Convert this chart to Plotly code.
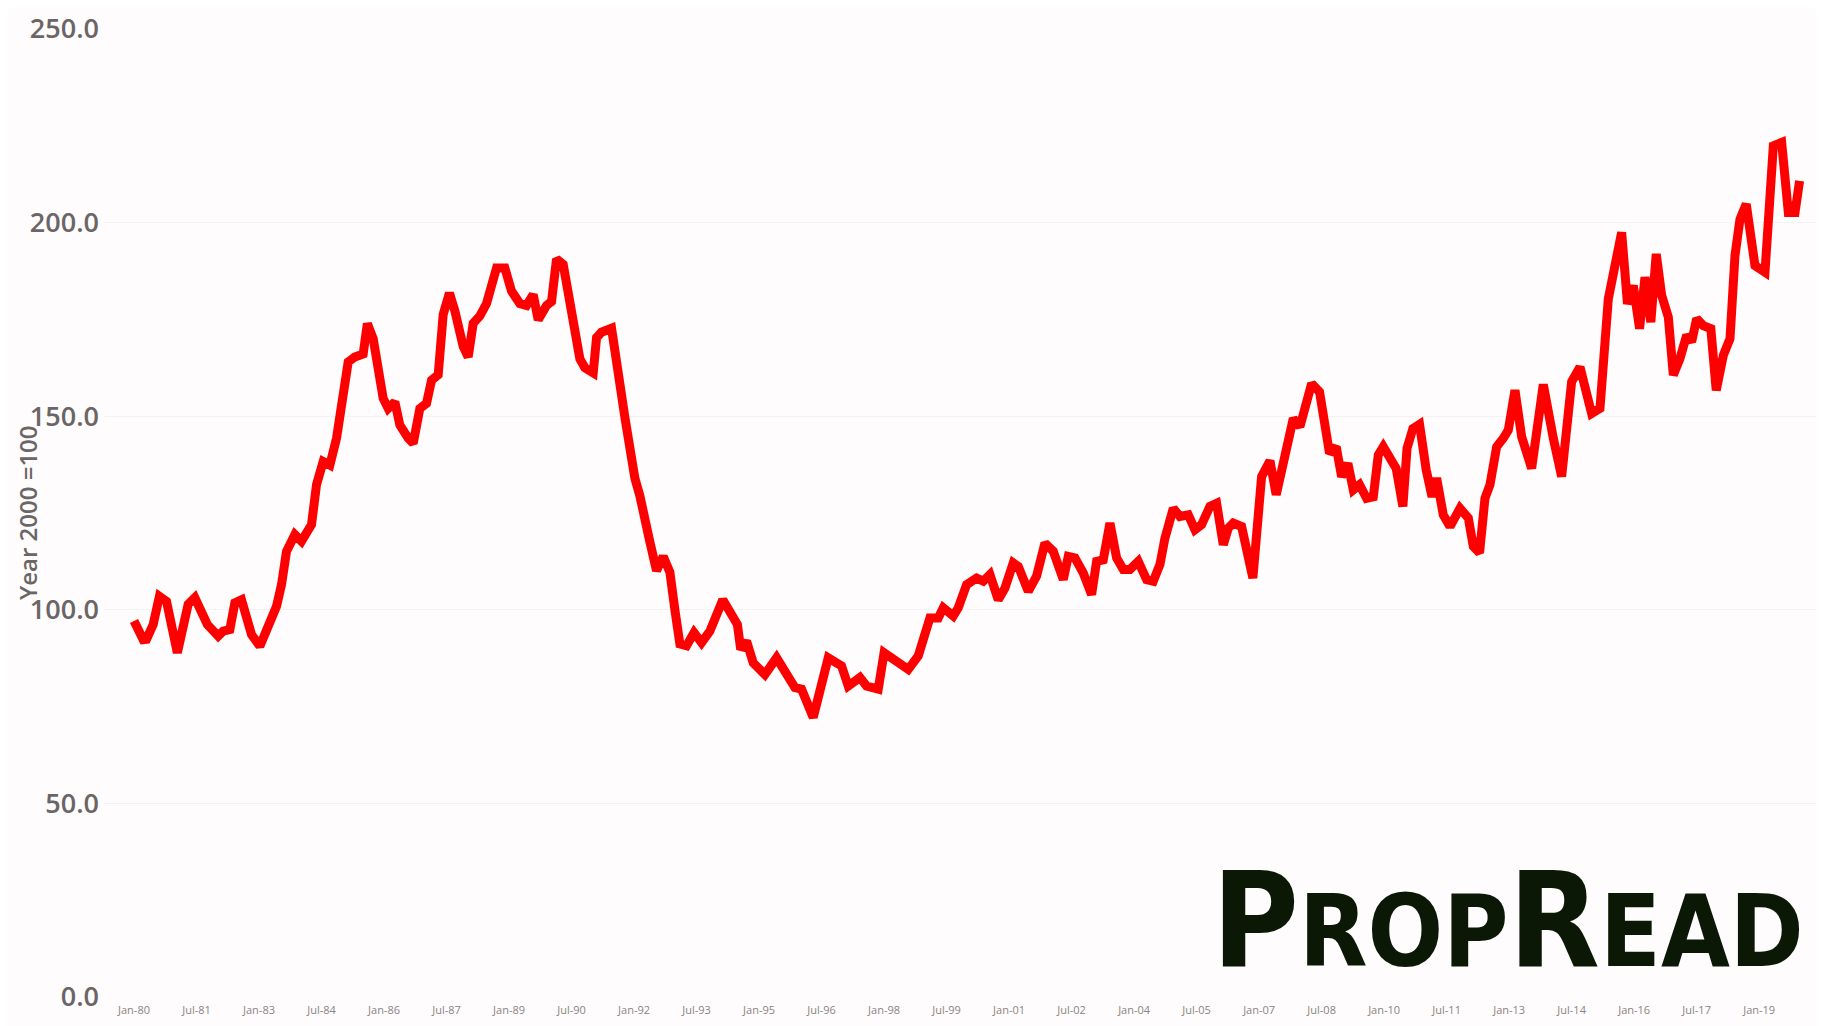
import plotly.graph_objects as go

years = [
    1980.00, 1980.22, 1980.30, 1980.46, 1980.61, 1980.78, 1981.04, 1981.30, 1981.46, 1981.76,
    1982.02, 1982.14, 1982.30, 1982.42, 1982.58, 1982.82, 1983.02, 1983.22, 1983.42, 1983.54,
    1983.66, 1983.86, 1984.02, 1984.26, 1984.38, 1984.54, 1984.70, 1984.86, 1985.02, 1985.14,
    1985.30, 1985.50, 1985.60, 1985.74, 1985.98, 1986.10, 1986.26, 1986.38, 1986.58, 1986.70,
    1986.86, 1987.02, 1987.14, 1987.30, 1987.42, 1987.57, 1987.70, 1987.90, 1988.02, 1988.14,
    1988.30, 1988.46, 1988.70, 1988.90, 1989.06, 1989.26, 1989.42, 1989.58, 1989.70, 1989.90,
    1990.02, 1990.14, 1990.30, 1990.50, 1990.70, 1990.82, 1991.02, 1991.10, 1991.22, 1991.46,
    1991.62, 1991.78, 1992.02, 1992.14, 1992.38, 1992.54, 1992.70, 1992.86, 1992.98, 1993.10,
    1993.26, 1993.44, 1993.62, 1993.82, 1994.13, 1994.30, 1994.48, 1994.56, 1994.70, 1994.86,
    1995.14, 1995.42, 1995.66, 1995.86, 1996.02, 1996.30, 1996.66, 1996.98, 1997.14, 1997.42,
    1997.58, 1997.86, 1998.00, 1998.22, 1998.58, 1998.82, 1999.10, 1999.30, 1999.42, 1999.66,
    1999.78, 1999.98, 2000.22, 2000.38, 2000.54, 2000.74, 2000.90, 2001.10, 2001.22, 2001.46,
    2001.66, 2001.86, 2002.06, 2002.30, 2002.42, 2002.58, 2002.78, 2002.98, 2003.10, 2003.26,
    2003.42, 2003.58, 2003.74, 2003.90, 2004.10, 2004.30, 2004.46, 2004.62, 2004.74, 2004.94,
    2005.10, 2005.30, 2005.46, 2005.62, 2005.82, 2005.98, 2006.14, 2006.26, 2006.38, 2006.58,
    2006.85, 2007.06, 2007.26, 2007.41, 2007.62, 2007.82, 2007.98, 2008.26, 2008.45, 2008.69,
    2008.85, 2008.98, 2009.13, 2009.26, 2009.41, 2009.58, 2009.74, 2009.86, 2009.98, 2010.29,
    2010.45, 2010.55, 2010.69, 2010.85, 2011.01, 2011.15, 2011.26, 2011.42, 2011.58, 2011.82,
    2012.02, 2012.14, 2012.29, 2012.42, 2012.54, 2012.70, 2012.86, 2012.98, 2013.14, 2013.30,
    2013.54, 2013.70, 2013.82, 2014.06, 2014.26, 2014.50, 2014.70, 2014.98, 2015.18, 2015.38,
    2015.70, 2015.84, 2015.98, 2016.13, 2016.26, 2016.40, 2016.53, 2016.66, 2016.82, 2016.94,
    2017.10, 2017.26, 2017.38, 2017.50, 2017.66, 2017.84, 2017.97, 2018.14, 2018.30, 2018.42,
    2018.54, 2018.69, 2018.90, 2019.14, 2019.26, 2019.34, 2019.54, 2019.70, 2019.86, 2019.97,
]

index_values = [
    97.1, 92.3, 92.4, 96.2, 103.5, 102.2, 88.9, 101.4, 103.1, 96.2,
    93.2, 94.5, 94.9, 101.8, 102.6, 93.6, 90.6, 96.2, 100.9, 106.5,
    115.1, 119.4, 117.7, 122.0, 132.3, 138.3, 137.4, 144.3, 157.1, 164.0,
    165.3, 166.1, 173.9, 170.0, 154.6, 152.0, 153.7, 147.7, 144.3, 143.0,
    152.0, 153.3, 159.3, 160.7, 176.3, 181.8, 177.2, 168.0, 165.3, 174.0,
    175.9, 179.1, 188.3, 188.3, 182.3, 179.1, 178.6, 181.4, 174.9, 178.6,
    179.6, 190.6, 189.2, 177.2, 164.8, 162.5, 161.2, 170.3, 171.7, 172.7,
    158.9, 149.7, 134.0, 129.4, 117.5, 110.1, 113.8, 109.7, 100.0, 91.2,
    90.7, 94.1, 91.5, 94.5, 102.6, 99.6, 96.2, 89.8, 91.9, 86.3,
    83.3, 87.6, 83.3, 79.9, 79.5, 72.2, 87.6, 85.5, 80.3, 82.5,
    80.3, 79.5, 88.9, 87.2, 84.6, 88.1, 97.9, 97.9, 100.5, 98.4,
    100.5, 106.5, 108.2, 107.4, 109.1, 102.6, 105.6, 112.1, 111.2, 104.8,
    108.7, 117.2, 115.1, 107.8, 113.8, 113.4, 109.5, 103.9, 112.5, 112.9,
    122.4, 113.4, 110.4, 110.4, 112.5, 107.8, 107.4, 111.7, 118.5, 126.2,
    124.1, 124.5, 120.7, 122.0, 126.7, 127.5, 116.8, 121.1, 122.4, 121.5,
    108.2, 134.4, 138.5, 129.7, 139.1, 149.4, 147.3, 158.4, 156.3, 140.4,
    142.1, 134.4, 137.8, 131.0, 132.3, 128.8, 129.2, 140.0, 142.1, 136.5,
    126.7, 141.7, 146.8, 147.9, 136.1, 129.2, 134.0, 124.5, 121.5, 126.2,
    123.7, 116.4, 114.7, 128.8, 132.3, 142.1, 144.3, 146.4, 156.7, 144.7,
    136.5, 150.3, 158.2, 144.3, 134.4, 158.9, 162.7, 150.7, 152.0, 180.3,
    197.5, 179.0, 183.7, 172.6, 185.9, 174.3, 191.9, 181.2, 175.6, 160.6,
    164.9, 170.9, 169.2, 175.2, 173.4, 172.6, 156.7, 165.7, 170.0, 191.5,
    200.9, 204.8, 188.9, 187.2, 206.9, 219.8, 220.7, 202.6, 202.6, 210.8,
]

x_tick_positions = [1980.0, 1981.5, 1983.0, 1984.5, 1986.0, 1987.5, 1989.0, 1990.5, 1992.0,
                    1993.5, 1995.0, 1996.5, 1998.0, 1999.5, 2001.0, 2002.5, 2004.0, 2005.5,
                    2007.0, 2008.5, 2010.0, 2011.5, 2013.0, 2014.5, 2016.0, 2017.5, 2019.0]
x_tick_labels = ["Jan-80", "Jul-81", "Jan-83", "Jul-84", "Jan-86", "Jul-87", "Jan-89", "Jul-90",
                 "Jan-92", "Jul-93", "Jan-95", "Jul-96", "Jan-98", "Jul-99", "Jan-01", "Jul-02",
                 "Jan-04", "Jul-05", "Jan-07", "Jul-08", "Jan-10", "Jul-11", "Jan-13", "Jul-14",
                 "Jan-16", "Jul-17", "Jan-19"]
y_ticks = [0, 50, 100, 150, 200, 250]
y_title = "Year 2000 =100"
logo_text = "P<span style='font-size:99px'>ROP</span>R<span style='font-size:99px'>EAD</span>"

grey = "#6b6565"
bg = "#fefcfc"

fig = go.Figure()
fig.add_trace(go.Scatter(
    x=years, y=index_values, mode="lines",
    line=dict(color="#ff0000", width=9),
    hoverinfo="skip", showlegend=False,
))

fig.update_layout(
    width=1816, height=1018,
    margin=dict(l=96, r=4, t=21, b=29),
    paper_bgcolor=bg, plot_bgcolor=bg,
    font=dict(family="Open Sans", color=grey),
    xaxis=dict(
        range=[1979.28, 2020.46], showgrid=False, zeroline=False, showline=False,
        automargin=False,
        tickmode="array", tickvals=x_tick_positions, ticktext=x_tick_labels,
        tickangle=0, ticklabelstandoff=5,
        tickfont=dict(size=11, color="#8a8484", family="Open Sans"),
    ),
    yaxis=dict(
        range=[0, 250], tickmode="array", tickvals=y_ticks, tickformat=".1f",
        automargin=False, ticklabelstandoff=4, ticklabeloverflow="allow",
        showgrid=True, gridcolor="#f6f2f2", gridwidth=1, zeroline=False, showline=False,
        tickfont=dict(size=27, color=grey, family="Open Sans", weight=600),
    ),
    annotations=[
        dict(text=y_title, textangle=-90, xref="paper", yref="paper", x=0, y=0.5,
             xanchor="center", yanchor="middle", xshift=-77, showarrow=False,
             font=dict(size=24, color=grey, family="Open Sans", weight=600)),
        dict(text=logo_text, xref="paper", yref="paper", x=1, y=0,
             xanchor="right", yanchor="bottom", xshift=-14, yshift=-2, showarrow=False,
             font=dict(size=132, color="#0b1806",
                       family="Liberation Sans Narrow, DejaVu Sans Condensed, sans-serif",
                       weight="bold")),
    ],
)

fig.write_html("out.html")
